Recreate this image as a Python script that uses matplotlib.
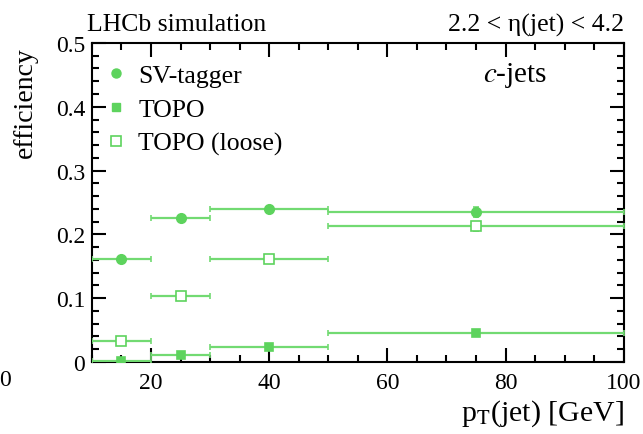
import matplotlib
matplotlib.use("Agg")
import matplotlib.pyplot as plt
from matplotlib.lines import Line2D
from matplotlib.ticker import MultipleLocator, FuncFormatter

plt.rcParams['font.family'] = ['Liberation Serif', 'DejaVu Serif']
plt.rcParams['mathtext.fontset'] = 'stix'

# Data
bin_lo = [10, 20, 30, 50]
bin_hi = [20, 30, 50, 100]
x_centers = [15, 25, 40, 75]
sv_tagger = [0.162, 0.225, 0.240, 0.235]
sv_err = [0.002, 0.002, 0.002, 0.008]
topo = [0.002, 0.011, 0.023, 0.046]
topo_err = [0.001, 0.001, 0.001, 0.002]
topo_loose = [0.033, 0.103, 0.161, 0.213]
topo_loose_err = [0.002, 0.002, 0.002, 0.007]
labels = ['SV-tagger', 'TOPO', 'TOPO (loose)']

green = '#5dd35d'
line_green = '#72da72'

fig = plt.figure(figsize=(6.43, 4.35), dpi=100)
ax = fig.add_axes([0.143, 0.1655, 0.827, 0.7335])

xerr_lo = [c - l for c, l in zip(x_centers, bin_lo)]
xerr_hi = [h - c for c, h in zip(x_centers, bin_hi)]

series = [
    (sv_tagger, sv_err, 'o', green, 6.8),
    (topo, topo_err, 's', green, 6.2),
    (topo_loose, topo_loose_err, 's', 'white', 6.8),
]
for vals, errs, m, fc, ms in series:
    ax.errorbar(x_centers, vals, xerr=[xerr_lo, xerr_hi], yerr=errs, fmt=m,
                mfc=fc, mec=green, mew=1.2, ms=ms, ecolor=line_green,
                elinewidth=1.6, capsize=2.2, capthick=1.6, zorder=3)

ax.set_xlim(10, 100)
ax.set_ylim(0, 0.5)
ax.xaxis.set_major_locator(MultipleLocator(20))
ax.xaxis.set_minor_locator(MultipleLocator(5))
ax.yaxis.set_major_locator(MultipleLocator(0.1))
ax.yaxis.set_minor_locator(MultipleLocator(0.02))
ax.tick_params(which='both', direction='in', top=True, right=True, labelsize=17, width=1.5)
ax.tick_params(which='major', length=10)
ax.tick_params(which='minor', length=5)
ax.tick_params(axis='x', pad=7)
ax.tick_params(axis='y', pad=5)
ax.yaxis.set_major_formatter(FuncFormatter(lambda v, p: '0' if abs(v) < 1e-9 else f'{v:.1f}'))
for s in ax.spines.values():
    s.set_linewidth(1.5)

handles = [
    Line2D([], [], marker='o', ls='none', mfc=green, mec=green, ms=6.5),
    Line2D([], [], marker='s', ls='none', mfc=green, mec=green, ms=6.0),
    Line2D([], [], marker='s', ls='none', mfc='white', mec=green, mew=1.2, ms=6.5),
]
ax.legend(handles, labels, loc='upper left', bbox_to_anchor=(-0.012, 0.99), frameon=False,
          fontsize=18.5, handlelength=1.0, handletextpad=0.35, labelspacing=0.42, borderaxespad=0.3)

fig.text(483/643, 1 - 75/435, r'$\mathit{c}$-jets', fontsize=21, va='center', ha='left')

fig.text(87/643, 1 - 25/435, 'LHCb simulation', fontsize=18.5, va='center', ha='left')
fig.text(624/643, 1 - 25/435, '2.2 < η(jet) < 4.2', fontsize=18.5, va='center', ha='right')
fig.text(624/643, 1 - 414/435, r'p$_{\rm T}$(jet) [GeV]', fontsize=21.5, va='center', ha='right')
fig.text(25/643, 1 - 47/435, 'efficiency', fontsize=20, va='top', ha='center', rotation=90)
fig.text(5/643, 1 - 380/435, '0', fontsize=17, va='center', ha='center')

fig.savefig('out.png', dpi=100)
